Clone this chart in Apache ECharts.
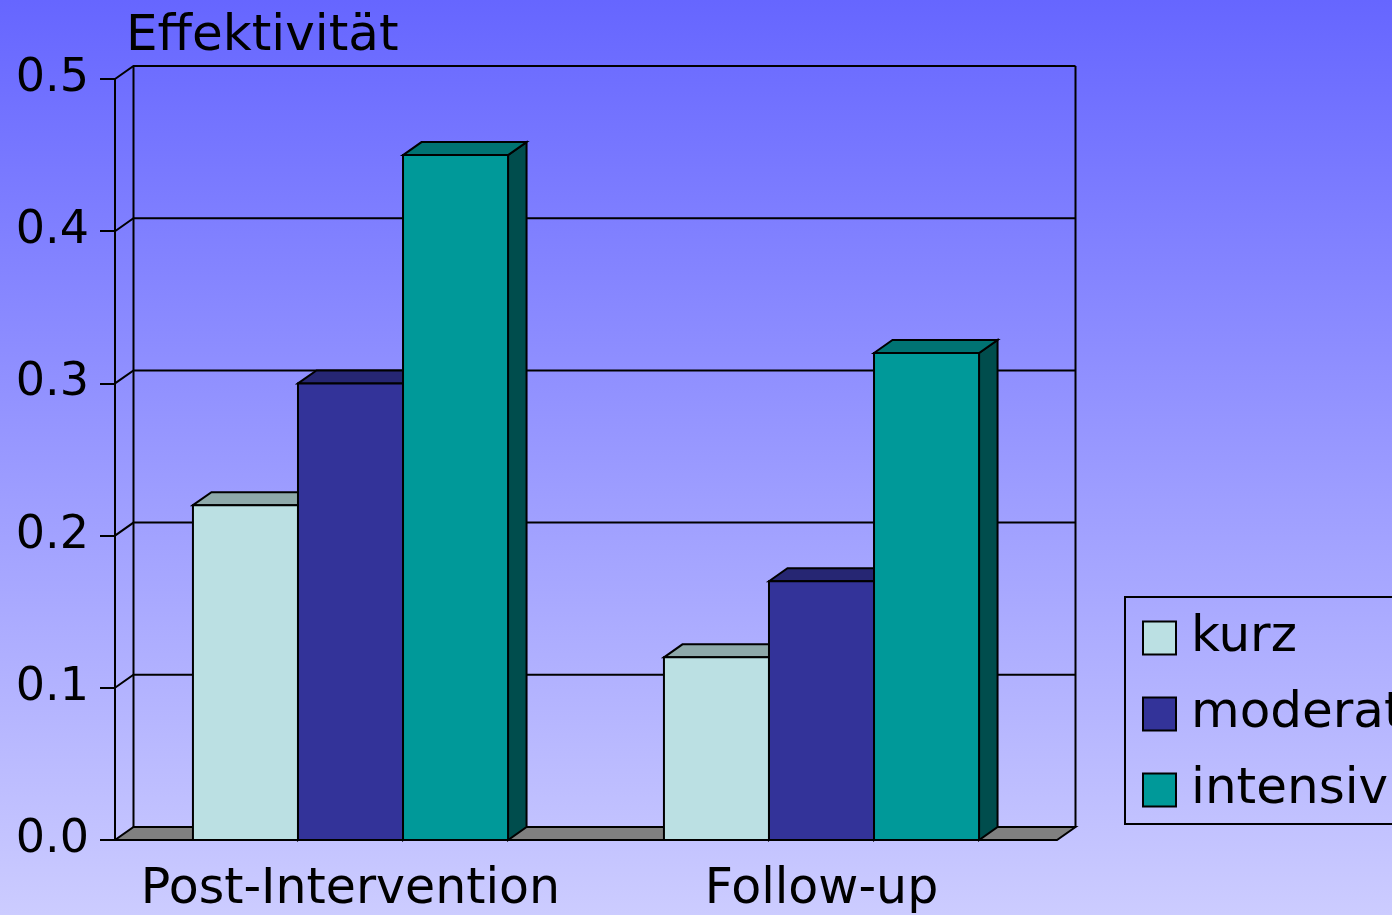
<!DOCTYPE html>
<html>
<head>
<meta charset="utf-8">
<script src="https://cdn.jsdelivr.net/npm/echarts@6/dist/echarts.min.js"></script>
<style>
  html, body { margin: 0; padding: 0; }
  #chart { width: 1392px; height: 915px; }
</style>
</head>
<body>
<div id="chart"></div>
<script>
// Kategorien und Werte
var categories = ['Post-Intervention', 'Follow-up'];
var seriesNames = ['kurz', 'moderat', 'intensiv'];
var kurzValues = [0.22, 0.12];
var moderatValues = [0.30, 0.17];
var intensivValues = [0.45, 0.32];
var yTicks = [0, 0.1, 0.2, 0.3, 0.4, 0.5];

// Farben: Vorderseite, Oberseite, Seite
var frontColors = ['#bbe0e3', '#333399', '#009999'];
var topColors = ['#8ea9aa', '#262673', '#007373'];
var sideColors = ['#8ea9aa', '#1a1a4d', '#004d4d'];

var DX = 18.5, DY = -13;      // Tiefe fuer 3D-Effekt
var BAR_RATIO = 0.223;        // Balkenbreite relativ zur Kategorie
var LW = 2;
var FONT = 'DejaVu Sans';

var myChart = echarts.init(document.getElementById('chart'));

// Rueckwand, Boden und Gitterlinien
function renderFrame(params, api) {
    var cs = params.coordSys;
    var v = api.value(0);
    var p = api.coord([0, v]);
    var xl = cs.x, xr = cs.x + cs.width;
    var y = p[1];
    var lineStyle = { stroke: '#000', lineWidth: LW, fill: null };
    var children = [];
    if (v === 0) {
        children.push({
            type: 'polygon',
            shape: { points: [[xl, y], [xr, y], [xr + DX, y + DY], [xl + DX, y + DY]] },
            style: { fill: '#808080', stroke: '#000', lineWidth: LW }
        });
        // senkrechte Kanten der Rueckwand
        children.push({
            type: 'line',
            shape: { x1: xl + DX, y1: y + DY, x2: xl + DX, y2: cs.y + DY },
            style: lineStyle
        });
        children.push({
            type: 'line',
            shape: { x1: xr + DX, y1: y + DY, x2: xr + DX, y2: cs.y + DY },
            style: lineStyle
        });
    } else {
        children.push({
            type: 'polyline',
            shape: { points: [[xl, y], [xl + DX, y + DY], [xr + DX, y + DY]] },
            style: lineStyle
        });
    }
    return { type: 'group', children: children };
}

// 3D-Balken
function makeBarRenderer(k) {
    return function (params, api) {
        var cat = api.value(0);
        var val = api.value(1);
        var top = api.coord([cat, val]);
        var base = api.coord([cat, 0]);
        var band = api.size([1, 0])[0];
        var w = band * BAR_RATIO;
        var x0 = top[0] + (k - 1.5) * w;
        var x1 = x0 + w;
        var y0 = top[1], yb = base[1];
        var edge = { stroke: '#000', lineWidth: LW };
        return {
            type: 'group',
            children: [
                {
                    type: 'polygon',
                    shape: { points: [[x1, y0], [x1 + DX, y0 + DY], [x1 + DX, yb + DY], [x1, yb]] },
                    style: Object.assign({ fill: sideColors[k] }, edge)
                },
                {
                    type: 'polygon',
                    shape: { points: [[x0, y0], [x0 + DX, y0 + DY], [x1 + DX, y0 + DY], [x1, y0]] },
                    style: Object.assign({ fill: topColors[k] }, edge)
                },
                {
                    type: 'rect',
                    shape: { x: x0, y: y0, width: w, height: yb - y0 },
                    style: Object.assign({ fill: frontColors[k] }, edge)
                }
            ]
        };
    };
}

var valueLists = [kurzValues, moderatValues, intensivValues];

var series = [{
    name: 'frame',
    type: 'custom',
    z: 1,
    silent: true,
    renderItem: renderFrame,
    data: yTicks.map(function (t) { return [t]; }),
    encode: { y: 0 }
}];

seriesNames.forEach(function (name, k) {
    series.push({
        name: name,
        type: 'custom',
        z: 2 + k,
        renderItem: makeBarRenderer(k),
        itemStyle: { color: frontColors[k], borderColor: '#000', borderWidth: LW },
        data: valueLists[k].map(function (v, i) { return [i, v]; }),
        encode: { x: 0, y: 1 }
    });
});

option = {
    animation: false,
    backgroundColor: {
        type: 'linear', x: 0, y: 0, x2: 0, y2: 1,
        colorStops: [
            { offset: 0, color: '#6666ff' },
            { offset: 1, color: '#ccccff' }
        ]
    },
    title: {
        text: 'Effektivität',
        left: 121,
        top: 7,
        textStyle: { fontFamily: FONT, fontSize: 50, fontWeight: 'normal', color: '#000' }
    },
    legend: {
        data: seriesNames,
        orient: 'vertical',
        left: 1125,
        top: 597,
        padding: [16, 40, 9, 17],
        itemGap: 26,
        itemWidth: 33,
        itemHeight: 33,
        icon: 'rect',
        borderColor: '#000',
        borderWidth: LW,
        itemStyle: { borderColor: '#000', borderWidth: LW },
        textStyle: { fontFamily: FONT, fontSize: 50, color: '#000', padding: [0, 0, 0, 10] }
    },
    grid: {
        left: 115,
        right: 335,
        top: 79,
        bottom: 74
    },
    xAxis: {
        type: 'category',
        data: categories,
        axisLine: { show: false },
        axisTick: { show: false },
        axisLabel: { fontFamily: FONT, fontSize: 49, color: '#000', margin: 26, interval: 0 }
    },
    yAxis: {
        type: 'value',
        min: 0,
        max: 0.5,
        interval: 0.1,
        axisLine: { show: true, lineStyle: { color: '#000', width: LW } },
        axisTick: { show: true, length: 15, lineStyle: { color: '#000', width: LW } },
        splitLine: { show: false },
        axisLabel: {
            fontFamily: FONT, fontSize: 46, color: '#000', margin: 26,
            formatter: function (v) { return v.toFixed(1); }
        }
    },
    series: series
};

myChart.setOption(option);
window.addEventListener('resize', function () {
    myChart.resize();
});
</script>
</body>
</html>
